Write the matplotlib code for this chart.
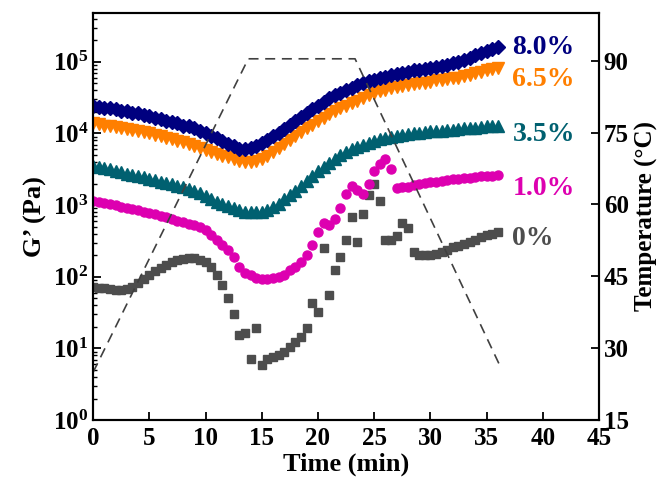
import numpy as np
import matplotlib
matplotlib.use('Agg')
import matplotlib.pyplot as plt
from matplotlib.ticker import LogLocator, MultipleLocator, NullFormatter

plt.rcParams['font.family'] = 'Liberation Serif'
plt.rcParams['font.weight'] = 'bold'

# sampling times (min), one point every 30 s
time = np.arange(0, 36.01, 0.5)

# log10(G'), one value per sample time
logG_80 = [4.39, 4.37, 4.36, 4.35, 4.34, 4.32, 4.31, 4.29, 4.28, 4.26,
           4.24, 4.22, 4.20, 4.18, 4.16, 4.14, 4.11, 4.10, 4.07, 4.04,
           4.01, 3.97, 3.93, 3.89, 3.86, 3.82, 3.79, 3.78, 3.80, 3.83,
           3.87, 3.91, 3.96, 4.01, 4.06, 4.12, 4.17, 4.23, 4.29, 4.34,
           4.39, 4.44, 4.49, 4.53, 4.57, 4.61, 4.64, 4.67, 4.70, 4.73,
           4.75, 4.77, 4.79, 4.81, 4.83, 4.85, 4.86, 4.88, 4.89, 4.90,
           4.91, 4.93, 4.94, 4.96, 4.98, 5.00, 5.03, 5.06, 5.09, 5.12,
           5.15, 5.18, 5.21]
logG_65 = [4.14, 4.13, 4.11, 4.10, 4.09, 4.07, 4.06, 4.05, 4.04, 4.02,
           4.00, 3.98, 3.96, 3.94, 3.92, 3.90, 3.88, 3.86, 3.83, 3.80,
           3.77, 3.74, 3.71, 3.69, 3.67, 3.64, 3.61, 3.60, 3.60, 3.62,
           3.65, 3.69, 3.74, 3.80, 3.86, 3.91, 3.96, 4.02, 4.07, 4.12,
           4.17, 4.22, 4.27, 4.31, 4.35, 4.39, 4.43, 4.46, 4.50, 4.53,
           4.56, 4.59, 4.61, 4.63, 4.65, 4.66, 4.68, 4.69, 4.70, 4.71,
           4.72, 4.74, 4.75, 4.76, 4.77, 4.78, 4.80, 4.82, 4.84, 4.86,
           4.88, 4.90, 4.92]
logG_35 = [3.55, 3.53, 3.52, 3.50, 3.48, 3.46, 3.44, 3.42, 3.41, 3.39,
           3.37, 3.35, 3.33, 3.31, 3.29, 3.27, 3.25, 3.23, 3.20, 3.17,
           3.13, 3.09, 3.05, 3.02, 2.99, 2.96, 2.93, 2.91, 2.90, 2.90,
           2.91, 2.93, 2.97, 3.02, 3.08, 3.14, 3.20, 3.27, 3.34, 3.41,
           3.47, 3.53, 3.59, 3.65, 3.70, 3.74, 3.78, 3.81, 3.84, 3.87,
           3.89, 3.92, 3.94, 3.95, 3.97, 3.98, 3.99, 4.00, 4.01, 4.02,
           4.03, 4.03, 4.04, 4.05, 4.05, 4.06, 4.07, 4.07, 4.08, 4.09,
           4.10, 4.10, 4.11]
logG_10 = [3.06, 3.05, 3.03, 3.02, 3.00, 2.98, 2.96, 2.95, 2.93, 2.91,
           2.89, 2.87, 2.85, 2.83, 2.80, 2.78, 2.76, 2.74, 2.72, 2.70,
           2.65, 2.58, 2.51, 2.44, 2.37, 2.27, 2.14, 2.06, 2.02, 1.98,
           1.97, 1.97, 1.98, 2.00, 2.03, 2.09, 2.14, 2.21, 2.31, 2.45,
           2.62, 2.75, 2.72, 2.80, 2.96, 3.16, 3.27, 3.21, 3.16, 3.30,
           3.48, 3.58, 3.64, 3.50, 3.24, 3.25, 3.26, 3.28, 3.30, 3.31,
           3.32, 3.33, 3.34, 3.35, 3.36, 3.37, 3.38, 3.38, 3.39, 3.40,
           3.40, 3.41, 3.42]
logG_0 = [1.86, 1.85, 1.84, 1.83, 1.82, 1.82, 1.83, 1.86, 1.91, 1.97,
          2.03, 2.08, 2.12, 2.17, 2.20, 2.23, 2.25, 2.26, 2.26, 2.24,
          2.20, 2.14, 2.02, 1.89, 1.70, 1.48, 1.19, 1.22, 0.85, 1.28,
          0.77, 0.86, 0.88, 0.91, 0.95, 1.02, 1.09, 1.16, 1.29, 1.64,
          1.51, 2.40, 1.75, 2.09, 2.27, 2.51, 2.84, 2.48, 2.88, 3.14,
          3.29, 3.06, 2.51, 2.52, 2.57, 2.75, 2.68, 2.34, 2.31, 2.30,
          2.30, 2.32, 2.35, 2.38, 2.41, 2.43, 2.46, 2.49, 2.52, 2.55,
          2.58, 2.60, 2.63]

# temperature programme
temp_time = [0, 13.8, 23.3, 36.2]
temp_vals = [25, 90.4, 90.4, 26.3]

labels = ['8.0%', '6.5%', '3.5%', '1.0%', '0%']
colors = ['#00007F', '#FF7F00', '#006070', '#DD00B0', '#4D4D4D']
markers = ['D', 'v', '^', 'o', 's']
sizes = [7, 8, 8, 6.5, 5.5]
series = [logG_80, logG_65, logG_35, logG_10, logG_0]

# where the curve labels sit (log10 G')
label_logy = [5.20, 4.75, 3.99, 3.23, 2.54]

fig = plt.figure(figsize=(6.7, 4.92), dpi=100)
ax = fig.add_axes([0.139, 0.146, 0.755, 0.828])

for lg, c, m, s in zip(series[::-1], colors[::-1], markers[::-1], sizes[::-1]):
    ax.plot(time, 10 ** np.array(lg), linestyle='none', marker=m,
            markersize=s, color=c, markeredgecolor=c)

for ly, lab, c in zip(label_logy, labels, colors):
    ax.text(37.3, 10 ** ly, lab, color=c, fontsize=20,
            fontweight='bold', va='center', ha='left')

ax.set_yscale('log')
ax.set_xlim(0, 45)
ax.set_ylim(1, 4.83e5)
ax.xaxis.set_major_locator(MultipleLocator(5))
ax.yaxis.set_major_locator(LogLocator(base=10, numticks=10))
ax.yaxis.set_minor_locator(LogLocator(base=10, subs=np.arange(2, 10), numticks=20))
ax.yaxis.set_minor_formatter(NullFormatter())
ax.tick_params(axis='both', which='major', direction='in', length=6, width=1.3,
               labelsize=18, top=False)
ax.tick_params(axis='y', which='minor', direction='in', length=3, width=1)
ax.tick_params(axis='x', pad=5)
ax.set_xlabel('Time (min)', fontsize=19, fontweight='bold', labelpad=2)
ax.set_ylabel('G\u2019 (Pa)', fontsize=19, fontweight='bold', labelpad=4)
for sp in ax.spines.values():
    sp.set_linewidth(1.5)

ax2 = ax.twinx()
ax2.plot(temp_time, temp_vals, linestyle=(0, (6, 4)), color='#404040', linewidth=1.2)
ax2.set_ylim(15, 100)
ax2.yaxis.set_major_locator(MultipleLocator(15))
ax2.tick_params(axis='y', direction='in', length=6, width=1.3, labelsize=18)
ax2.set_ylabel('Temperature (\u00b0C)', fontsize=18, fontweight='bold', labelpad=4)
for sp in ax2.spines.values():
    sp.set_linewidth(1.5)

fig.savefig('out.png', dpi=100)
